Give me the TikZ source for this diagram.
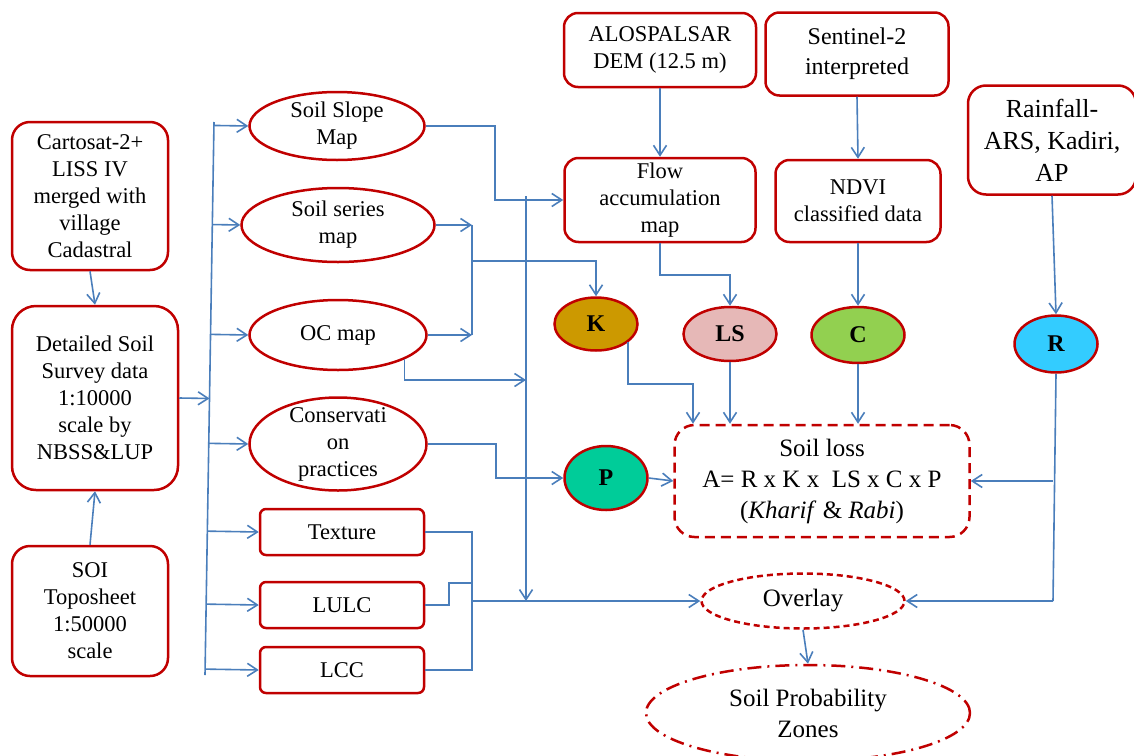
\documentclass[tikz,border=0pt]{standalone}
\usepackage{fontspec}
\setmainfont{Liberation Serif}
\usetikzlibrary{arrows.meta, positioning, calc, shapes.geometric}
\definecolor{BoxRed}{HTML}{C00000}
\definecolor{LinkBlue}{HTML}{4A7EBB}
\definecolor{KGold}{HTML}{CC9900}
\definecolor{LSPink}{HTML}{E6B8B7}
\definecolor{CGreen}{HTML}{92D050}
\definecolor{RCyan}{HTML}{33CCFF}
\definecolor{PTeal}{HTML}{00CC99}

\begin{document}
\begin{tikzpicture}[
    x=1pt, y=-1pt, font=\fontsize{22.5}{27}\selectfont,
    src/.style={draw=BoxRed, line width=2.5pt, rounded corners=18pt, align=center, inner sep=3pt},
    lyr/.style={draw=BoxRed, line width=2.5pt, rounded corners=6pt, align=center,
                minimum width=164pt, minimum height=46pt},
    oval/.style={draw=BoxRed, line width=2.5pt, ellipse, align=center, inner sep=0pt},
    fac/.style={oval, font=\fontsize{24}{28}\selectfont\bfseries},
    bigtxt/.style={font=\fontsize{25}{31}\selectfont},
    wire/.style={LinkBlue, line width=1.6pt},
    link/.style={wire, -{Straight Barb[length=10pt, width=13pt]}},
  ]
    \useasboundingbox (0,0) rectangle (1134,755);
    % ---- left: source data ----
    \node[src, minimum width=156pt, minimum height=148pt] (carto) at (90,196)
        {Cartosat-2+\\LISS IV\\merged with\\village\\Cadastral};
    \node[src, rounded corners=24pt, minimum width=166pt, minimum height=184pt] (dssd) at (95,398)
        {Detailed Soil\\Survey data\\1:10000\\scale by\\NBSS\&LUP};
    \node[src, minimum width=156pt, minimum height=130pt] (soi) at (90,611)
        {SOI\\Toposheet\\1:50000\\scale};
    % ---- thematic layers ----
    \node[oval, minimum width=175pt, minimum height=68pt] (slope)  at (337,126) {Soil Slope\\Map};
    \node[oval, minimum width=193pt, minimum height=74pt] (series) at (338,225) {Soil series\\map};
    \node[oval, minimum width=177pt, minimum height=70pt] (oc)     at (338,335) {OC map};
    \node[oval, inner ysep=-6pt, minimum width=177pt, minimum height=93pt] (cons) at (338,444)
        {Conservati\\on\\practices};
    \node[lyr] (tex)  at (342,532) {Texture};
    \node[lyr] (lulc) at (342,605) {LULC};
    \node[lyr] (lcc)  at (342,670) {LCC};
    % ---- top: remote sensing inputs ----
    \node[src, rounded corners=14pt, minimum width=192pt, minimum height=74pt] (alos) at (660,50)
        {ALOSPALSAR\\DEM (12.5 m)};
    \node[src, rounded corners=14pt, minimum width=183pt, minimum height=83pt,
          font=\fontsize{24}{30}\selectfont] (sent) at (857,54) {Sentinel-2\\interpreted};
    \node[src, rounded corners=14pt, minimum width=191pt, minimum height=84pt] (flow) at (660,200)
        {Flow\\accumulation\\map};
    \node[src, rounded corners=14pt, minimum width=165pt, minimum height=82pt] (ndvi) at (858,201)
        {NDVI\\classified data};
    \node[src, minimum width=168pt, minimum height=109pt,
          font=\fontsize{26}{32}\selectfont] (rain) at (1052,140) {Rainfall-\\ARS, Kadiri,\\AP};
    % ---- RUSLE factors ----
    \node[fac, fill=KGold,  minimum width=83pt, minimum height=53pt] (K)  at (596,324) {K};
    \node[fac, fill=LSPink, minimum width=93pt, minimum height=54pt] (LS) at (730,334) {LS};
    \node[fac, fill=CGreen, minimum width=93pt, minimum height=56pt] (C)  at (858,335) {C};
    \node[fac, fill=RCyan,  minimum width=83pt, minimum height=57pt] (R)  at (1056,344) {R};
    \node[fac, fill=PTeal,  minimum width=83pt, minimum height=64pt] (P)  at (606,478) {P};
    % ---- results ----
    \node[src, bigtxt, dash pattern=on 10pt off 6pt, rounded corners=20pt,
          minimum width=295pt, minimum height=112pt] (loss) at (822,481)
        {Soil loss\\A= R x K x ~LS x C x P\\(\textit{Kharif} \& \textit{Rabi})};
    \node[oval, bigtxt, dash pattern=on 6pt off 4pt, minimum width=203pt, minimum height=55pt]
        (over) at (803,601) {Overlay};
    \node[oval, bigtxt, dash pattern=on 14pt off 6pt on 2pt off 6pt,
          minimum width=324pt, minimum height=96pt] (spz) at (808,713) {Soil Probability\\Zones};
    % ---- helper points ----
    \coordinate (busT)   at (214,122);
    \coordinate (busB)   at (205,675);
    \coordinate (kTop)   at (472,225);
    \coordinate (kBot)   at (472,335);
    \coordinate (kJoin)  at (472,261);
    \coordinate (vTop)   at (526,196);
    \coordinate (vBot)   at (526,601);
    \coordinate (ocIn)   at (526,380);
    \coordinate (oJoin)  at (472,601);
    \coordinate (lulcIn) at (472,583);
    \coordinate (kBend)  at (693,384);
    \coordinate (rBot)   at (1053,601);
    % ---- left column ----
    \draw[link] (carto.south) -- (dssd.north);
    \draw[link] (soi.north) -- (dssd.south);
    \draw[wire] (busT) -- (busB);
    \draw[link] (dssd.east) -- ($(busT)!(dssd.east)!(busB)$);
    \draw[link] ($(busT)!(slope.west)!(busB)$)  -- (slope.west);
    \draw[link] ($(busT)!(series.west)!(busB)$) -- (series.west);
    \draw[link] ($(busT)!(oc.west)!(busB)$)     -- (oc.west);
    \draw[link] ($(busT)!(cons.west)!(busB)$)   -- (cons.west);
    \draw[link] ($(busT)!(tex.west)!(busB)$)    -- (tex.west);
    \draw[link] ($(busT)!(lulc.west)!(busB)$)   -- (lulc.west);
    \draw[link] ($(busT)!(lcc.west)!(busB)$)    -- (lcc.west);
    % ---- layers to factors ----
    \draw[link] (slope.east) -- ++(69,0) |- (flow.west);
    \draw[link] (series.east) -- (kTop);
    \draw[link] (oc.east) -- (kBot);
    \draw[wire] (kTop) -- (kBot);
    \draw[link] (kJoin) -| (K.north);
    \draw[link] (vTop) -- (vBot);
    \draw[link] (oc.-20) |- (ocIn);
    \draw[link] (cons.east) -- ++(68,0) |- (P.west);
    \draw[wire] (tex.east) -| (oJoin);
    \draw[wire] (lcc.east) -| (oJoin);
    \draw[wire] (lulc.east) -- ++(24,0) |- (lulcIn);
    \draw[link] (oJoin) -- (over.west);
    % ---- top inputs ----
    \draw[link] (alos.south) -- (flow.north);
    \draw[link] (sent.south) -- (ndvi.north);
    \draw[link] (rain.south) -- (R.north);
    \draw[link] (flow.south) -- ++(0,32) -| (LS.north);
    \draw[link] (ndvi.south) -- (C.north);
    % ---- factors to soil loss ----
    \draw[link] (K.-30) |- (kBend) -- (kBend |- loss.north);
    \draw[link] (LS.south) -- (LS.south |- loss.north);
    \draw[link] (C.south) -- (C.south |- loss.north);
    \draw[link] (P.east) -- (loss.west);
    \draw[wire] (R.south) -- (rBot);
    \draw[link] (loss.east -| rBot) -- (loss.east);
    \draw[link] (rBot) -- (over.east);
    \draw[link] (over.south) -- (spz.north);
  \end{tikzpicture}
\end{document}
